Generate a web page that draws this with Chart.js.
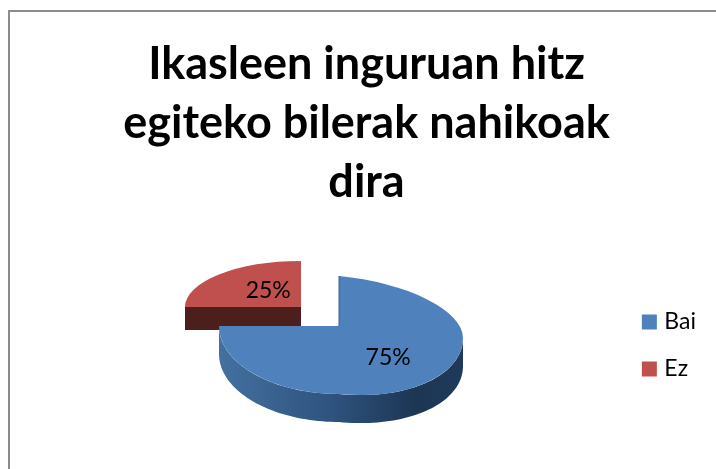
<!DOCTYPE html>
<html>
<head>
<meta charset="utf-8">
<style>
html,body{margin:0;padding:0;background:#fff;overflow:hidden}
#wrap{position:absolute;left:0;top:0;width:716px;height:469px}
</style>
<script src="https://cdn.jsdelivr.net/npm/chart.js@4"></script>
</head>
<body>
<div id="wrap"><canvas id="c" width="716" height="469"></canvas></div>
<script>
const categories = ['Bai', 'Ez'];
const values = [75, 25];
const valueLabels = ['75%', '25%'];
const titleLines = ['Ikasleen inguruan hitz', 'egiteko bilerak nahikoak', 'dira'];
const sliceColors = ['#4f81bd', '#c0504d'];

// Drawn projection of each slice: apex, radii per side, right-hand droop, extrusion depth.
const projection = [
  {cx: 339, cy: 326, rxL: 120, rxR: 124, ryUp: 50, ryDown: 68, droop: 12, depth: 28, labelX: 0.56, labelY: 0.66},
  {cx: 301, cy: 307, rxL: 116, rxR: 116, ryUp: 46, ryDown: 46, droop: 0, depth: 23, labelX: 0.40, labelY: 0.49}
];
const frameColor = '#8c8c8c';

function rimPoint(p, t, dy) {
  const c = Math.cos(t), s = Math.sin(t);
  const right = c > 0;
  return [p.cx + c * (right ? p.rxR : p.rxL),
          p.cy + dy + s * (s > 0 ? p.ryDown : p.ryUp) + (right ? c * p.droop : 0)];
}

function drawQuadrant(ctx, arc, p, right, up) {
  const R = arc.outerRadius;
  const overlap = 2;
  ctx.save();
  ctx.beginPath();
  const sx = (right ? p.rxR : p.rxL) / R;
  const sy = (up ? p.ryUp : p.ryDown) / R;
  const shear = right ? (p.droop / R) : 0;
  ctx.translate(p.cx, p.cy);
  ctx.transform(sx, shear, 0, sy, 0, 0);
  // clip in arc space; neighbouring quadrants overlap slightly to hide seams
  ctx.rect(right ? -overlap : -2 * R, up ? -2 * R : 0, 2 * R + overlap, 2 * R + (up ? overlap : 0));
  ctx.clip();
  ctx.translate(-arc.x, -arc.y);
  arc.draw(ctx);
  ctx.restore();
}

const pie3d = {
  id: 'pie3d',
  beforeDraw(chart) {
    const ctx = chart.ctx;
    ctx.save();
    ctx.strokeStyle = frameColor;
    ctx.lineWidth = 2;
    ctx.beginPath();
    ctx.moveTo(9, 469);
    ctx.lineTo(9, 11);
    ctx.lineTo(716, 11);
    ctx.stroke();
    ctx.restore();
  },
  beforeDatasetDraw(chart) {
    const ctx = chart.ctx;
    const arcs = chart.getDatasetMeta(0).data;
    // red slice first, it sits behind the blue one
    [1, 0].forEach(i => {
      const arc = arcs[i], p = projection[i];
      ctx.save();
      if (i === 1) {
        ctx.fillStyle = '#4d1f1c';
        ctx.fillRect(p.cx - p.rxL, p.cy, p.rxL, p.depth);
      } else {
        const g = ctx.createLinearGradient(p.cx - p.rxL, 0, p.cx + p.rxR, 0);
        g.addColorStop(0, '#44709f');
        g.addColorStop(0.45, '#2f5480');
        g.addColorStop(0.8, '#1d3654');
        g.addColorStop(1, '#1f3a5a');
        ctx.fillStyle = g;
        ctx.beginPath();
        const steps = 90;
        for (let k = 0; k <= steps; k++) {
          const q = rimPoint(p, Math.PI * k / steps, 0);
          k ? ctx.lineTo(q[0], q[1]) : ctx.moveTo(q[0], q[1]);
        }
        for (let k = steps; k >= 0; k--) {
          const q = rimPoint(p, Math.PI * k / steps, p.depth);
          ctx.lineTo(q[0], q[1]);
        }
        ctx.closePath();
        ctx.fill();
      }
      ctx.restore();
      [[true, true], [true, false], [false, true], [false, false]].forEach(q => drawQuadrant(ctx, arc, p, q[0], q[1]));
      if (i === 0) {
        ctx.save();
        ctx.strokeStyle = '#3a6291';
        ctx.lineWidth = 1;
        ctx.beginPath();
        ctx.moveTo(p.cx, p.cy - p.ryUp);
        ctx.lineTo(p.cx, p.cy);
        ctx.stroke();
        ctx.restore();
      }
    });
    return false;
  },
  afterDatasetsDraw(chart) {
    const ctx = chart.ctx;
    const arcs = chart.getDatasetMeta(0).data;
    ctx.save();
    ctx.font = '23px Lato, Carlito, sans-serif';
    ctx.fillStyle = '#000';
    ctx.textAlign = 'center';
    ctx.textBaseline = 'middle';
    arcs.forEach((arc, i) => {
      const p = projection[i];
      const mid = (arc.startAngle + arc.endAngle) / 2;
      const c = Math.cos(mid), s = Math.sin(mid);
      const x = p.cx + c * (c > 0 ? p.rxR : p.rxL) * p.labelX;
      const y = p.cy + s * (s < 0 ? p.ryUp : p.ryDown) * p.labelY;
      ctx.fillText(valueLabels[i], x, y);
    });
    ctx.restore();
  }
};

new Chart(document.getElementById('c'), {
  type: 'pie',
  data: {
    labels: categories,
    datasets: [{data: values, backgroundColor: sliceColors, borderWidth: 0}]
  },
  plugins: [pie3d],
  options: {
    responsive: false,
    animation: false,
    layout: {padding: {top: 19, right: 10, left: 27, bottom: 0}},
    plugins: {
      tooltip: {enabled: false},
      title: {
        display: true,
        text: titleLines,
        color: '#000',
        font: {family: 'Lato, Carlito, sans-serif', size: 45, weight: 'bold', lineHeight: 1.31},
        padding: {top: 16, bottom: 10}
      },
      legend: {
        position: 'right',
        fullSize: false,
        labels: {
          boxWidth: 7,
          boxHeight: 7,
          padding: 24,
          color: '#000',
          font: {family: 'Lato, Carlito, sans-serif', size: 23},
          generateLabels(chart) {
            return Chart.controllers.pie.overrides.plugins.legend.labels.generateLabels(chart).map(item => {
              item.strokeStyle = item.fillStyle;
              item.lineWidth = 8;
              item.lineJoin = 'miter';
              return item;
            });
          }
        }
      }
    }
  }
});
</script>
</body>
</html>
